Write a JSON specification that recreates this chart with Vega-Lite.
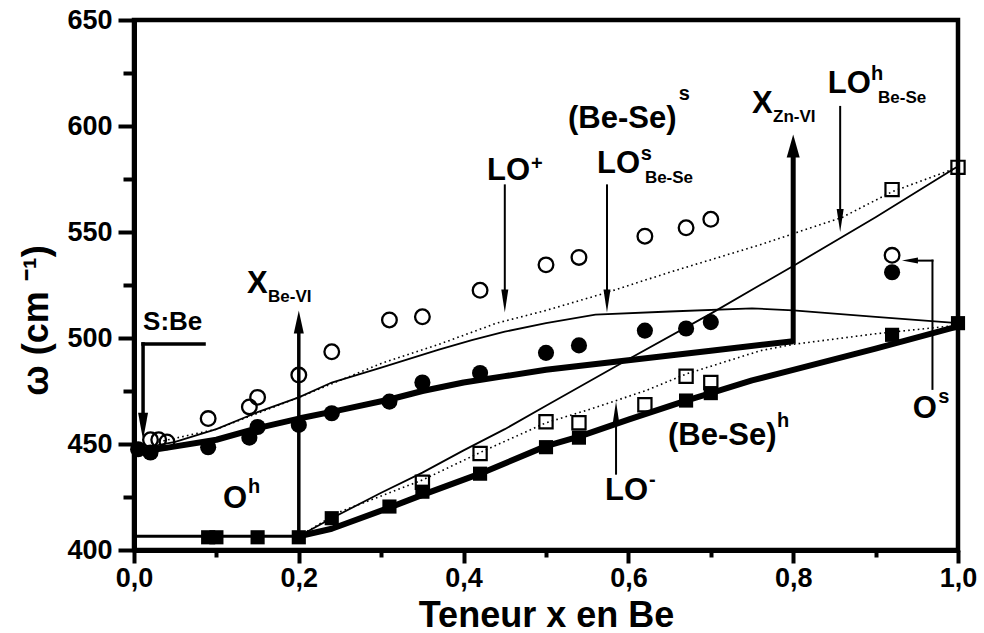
{
  "$schema": "https://vega.github.io/schema/vega-lite/v6.json",
  "width": 824,
  "height": 530,
  "autosize": {"type": "none"},
  "padding": {"left": 134, "top": 20, "right": 26, "bottom": 83},
  "background": "white",
  "config": {
    "view": {"stroke": "black", "strokeWidth": 4.5},
    "font": "Liberation Sans",
    "axis": {"grid": false}
  },
  "datasets": {
    "lines": [
      {"series": "base", "x": 0.0, "y": 406.5},
      {"series": "base", "x": 0.2, "y": 406.5},
      {"series": "upper_fit", "x": 0.0, "y": 447.5},
      {"series": "upper_fit", "x": 0.02, "y": 447},
      {"series": "upper_fit", "x": 0.1, "y": 452},
      {"series": "upper_fit", "x": 0.15, "y": 457.5},
      {"series": "upper_fit", "x": 0.2, "y": 462},
      {"series": "upper_fit", "x": 0.25, "y": 466},
      {"series": "upper_fit", "x": 0.31, "y": 471},
      {"series": "upper_fit", "x": 0.35, "y": 475},
      {"series": "upper_fit", "x": 0.4, "y": 479},
      {"series": "upper_fit", "x": 0.45, "y": 482},
      {"series": "upper_fit", "x": 0.5, "y": 485},
      {"series": "upper_fit", "x": 0.6, "y": 489.5},
      {"series": "upper_fit", "x": 0.7, "y": 494},
      {"series": "upper_fit", "x": 0.8, "y": 498.5},
      {"series": "lower_fit", "x": 0.2, "y": 406.5},
      {"series": "lower_fit", "x": 0.24, "y": 410},
      {"series": "lower_fit", "x": 0.31, "y": 420},
      {"series": "lower_fit", "x": 0.35, "y": 426},
      {"series": "lower_fit", "x": 0.42, "y": 436},
      {"series": "lower_fit", "x": 0.5, "y": 449},
      {"series": "lower_fit", "x": 0.54, "y": 453.5},
      {"series": "lower_fit", "x": 0.6, "y": 461.5},
      {"series": "lower_fit", "x": 0.67, "y": 470.5},
      {"series": "lower_fit", "x": 0.7, "y": 474},
      {"series": "lower_fit", "x": 0.75, "y": 480},
      {"series": "lower_fit", "x": 0.8, "y": 485},
      {"series": "lower_fit", "x": 0.9, "y": 495},
      {"series": "lower_fit", "x": 1.0, "y": 505.5},
      {"series": "upper_thin", "x": 0.01, "y": 448},
      {"series": "upper_thin", "x": 0.05, "y": 451},
      {"series": "upper_thin", "x": 0.1, "y": 457},
      {"series": "upper_thin", "x": 0.15, "y": 465},
      {"series": "upper_thin", "x": 0.2, "y": 472},
      {"series": "upper_thin", "x": 0.24, "y": 479},
      {"series": "upper_thin", "x": 0.3, "y": 486},
      {"series": "upper_thin", "x": 0.37, "y": 494.5},
      {"series": "upper_thin", "x": 0.41, "y": 499},
      {"series": "upper_thin", "x": 0.45, "y": 503},
      {"series": "upper_thin", "x": 0.5, "y": 507},
      {"series": "upper_thin", "x": 0.56, "y": 511},
      {"series": "upper_thin", "x": 0.65, "y": 512.5},
      {"series": "upper_thin", "x": 0.75, "y": 514},
      {"series": "upper_thin", "x": 0.8, "y": 513},
      {"series": "upper_thin", "x": 0.9, "y": 510},
      {"series": "upper_thin", "x": 1.0, "y": 507},
      {"series": "upper_dotted", "x": 0.03, "y": 451},
      {"series": "upper_dotted", "x": 0.1, "y": 457},
      {"series": "upper_dotted", "x": 0.2, "y": 472},
      {"series": "upper_dotted", "x": 0.25, "y": 480},
      {"series": "upper_dotted", "x": 0.3, "y": 488},
      {"series": "upper_dotted", "x": 0.37, "y": 497},
      {"series": "upper_dotted", "x": 0.44, "y": 507},
      {"series": "upper_dotted", "x": 0.5, "y": 513},
      {"series": "upper_dotted", "x": 0.57, "y": 521},
      {"series": "upper_dotted", "x": 0.65, "y": 531},
      {"series": "upper_dotted", "x": 0.76, "y": 544},
      {"series": "upper_dotted", "x": 0.86, "y": 557},
      {"series": "upper_dotted", "x": 0.92, "y": 569},
      {"series": "upper_dotted", "x": 1.0, "y": 580.5},
      {"series": "lower_thin", "x": 0.2, "y": 406.5},
      {"series": "lower_thin", "x": 0.24, "y": 415},
      {"series": "lower_thin", "x": 0.3, "y": 427},
      {"series": "lower_thin", "x": 0.35, "y": 436.5},
      {"series": "lower_thin", "x": 0.4, "y": 447},
      {"series": "lower_thin", "x": 0.45, "y": 457},
      {"series": "lower_thin", "x": 0.5, "y": 468},
      {"series": "lower_thin", "x": 0.6, "y": 490},
      {"series": "lower_thin", "x": 0.7, "y": 511.5},
      {"series": "lower_thin", "x": 0.8, "y": 534},
      {"series": "lower_thin", "x": 0.9, "y": 557},
      {"series": "lower_thin", "x": 1.0, "y": 581},
      {"series": "lower_dotted", "x": 0.2, "y": 406.5},
      {"series": "lower_dotted", "x": 0.25, "y": 418},
      {"series": "lower_dotted", "x": 0.3, "y": 425.5},
      {"series": "lower_dotted", "x": 0.35, "y": 433},
      {"series": "lower_dotted", "x": 0.42, "y": 446},
      {"series": "lower_dotted", "x": 0.5, "y": 460},
      {"series": "lower_dotted", "x": 0.55, "y": 466},
      {"series": "lower_dotted", "x": 0.62, "y": 475},
      {"series": "lower_dotted", "x": 0.67, "y": 483},
      {"series": "lower_dotted", "x": 0.76, "y": 494},
      {"series": "lower_dotted", "x": 0.8, "y": 497},
      {"series": "lower_dotted", "x": 0.9, "y": 502},
      {"series": "lower_dotted", "x": 1.0, "y": 506}
    ],
    "points": [
      {"series": "open_circle", "x": 0.02, "y": 452},
      {"series": "open_circle", "x": 0.03, "y": 452},
      {"series": "open_circle", "x": 0.04, "y": 451},
      {"series": "open_circle", "x": 0.09, "y": 462},
      {"series": "open_circle", "x": 0.14, "y": 467.5},
      {"series": "open_circle", "x": 0.15, "y": 472},
      {"series": "open_circle", "x": 0.2, "y": 482.5},
      {"series": "open_circle", "x": 0.24, "y": 493.5},
      {"series": "open_circle", "x": 0.31, "y": 508.5},
      {"series": "open_circle", "x": 0.35, "y": 510},
      {"series": "open_circle", "x": 0.42, "y": 522.5},
      {"series": "open_circle", "x": 0.5, "y": 534.5},
      {"series": "open_circle", "x": 0.54, "y": 538},
      {"series": "open_circle", "x": 0.62, "y": 548},
      {"series": "open_circle", "x": 0.67, "y": 552},
      {"series": "open_circle", "x": 0.7, "y": 556},
      {"series": "open_circle", "x": 0.92, "y": 539},
      {"series": "filled_circle", "x": 0.005, "y": 447.5},
      {"series": "filled_circle", "x": 0.02, "y": 446},
      {"series": "filled_circle", "x": 0.09, "y": 448.5},
      {"series": "filled_circle", "x": 0.14, "y": 453},
      {"series": "filled_circle", "x": 0.15, "y": 458},
      {"series": "filled_circle", "x": 0.2, "y": 459},
      {"series": "filled_circle", "x": 0.24, "y": 464.5},
      {"series": "filled_circle", "x": 0.31, "y": 470},
      {"series": "filled_circle", "x": 0.35, "y": 479},
      {"series": "filled_circle", "x": 0.42, "y": 483.5},
      {"series": "filled_circle", "x": 0.5, "y": 493},
      {"series": "filled_circle", "x": 0.54, "y": 496.5},
      {"series": "filled_circle", "x": 0.62, "y": 503.5},
      {"series": "filled_circle", "x": 0.67, "y": 504.5},
      {"series": "filled_circle", "x": 0.7, "y": 507.5},
      {"series": "filled_circle", "x": 0.92, "y": 531},
      {"series": "filled_square", "x": 0.09, "y": 406},
      {"series": "filled_square", "x": 0.1, "y": 406},
      {"series": "filled_square", "x": 0.15, "y": 406},
      {"series": "filled_square", "x": 0.2, "y": 406},
      {"series": "filled_square", "x": 0.24, "y": 415},
      {"series": "filled_square", "x": 0.31, "y": 420.5},
      {"series": "filled_square", "x": 0.35, "y": 427.5},
      {"series": "filled_square", "x": 0.42, "y": 436},
      {"series": "filled_square", "x": 0.5, "y": 448.5},
      {"series": "filled_square", "x": 0.54, "y": 453},
      {"series": "filled_square", "x": 0.67, "y": 470.5},
      {"series": "filled_square", "x": 0.7, "y": 474},
      {"series": "filled_square", "x": 0.92, "y": 501.5},
      {"series": "filled_square", "x": 1.0, "y": 507},
      {"series": "open_square", "x": 0.35, "y": 432},
      {"series": "open_square", "x": 0.42, "y": 445.5},
      {"series": "open_square", "x": 0.5, "y": 460.5},
      {"series": "open_square", "x": 0.54, "y": 460},
      {"series": "open_square", "x": 0.62, "y": 468.5},
      {"series": "open_square", "x": 0.67, "y": 482},
      {"series": "open_square", "x": 0.7, "y": 479},
      {"series": "open_square", "x": 0.92, "y": 570},
      {"series": "open_square", "x": 1.0, "y": 580.5}
    ],
    "rules": [
      {"kind": "thick", "x": 0.8, "y": 498.5, "x2": 0.8, "y2": 588},
      {"kind": "medium", "x": 0.2, "y": 406, "x2": 0.2, "y2": 505},
      {"kind": "medium", "x": 0.085, "y": 497.2, "x2": 0.011, "y2": 497.2},
      {"kind": "medium", "x": 0.011, "y": 497.2, "x2": 0.011, "y2": 462},
      {"kind": "thin", "x": 0.45, "y": 572, "x2": 0.45, "y2": 520},
      {"kind": "thin", "x": 0.574, "y": 572, "x2": 0.574, "y2": 520},
      {"kind": "thin", "x": 0.857, "y": 609, "x2": 0.857, "y2": 557},
      {"kind": "thin", "x": 0.585, "y": 436, "x2": 0.585, "y2": 463},
      {"kind": "thin", "x": 0.969, "y": 476, "x2": 0.969, "y2": 536.5},
      {"kind": "thin", "x": 0.969, "y": 536.5, "x2": 0.945, "y2": 536.5}
    ],
    "heads": [
      {"kind": "big_up", "x": 0.8, "y": 596},
      {"kind": "med_up", "x": 0.2, "y": 513},
      {"kind": "med_down", "x": 0.011, "y": 452},
      {"kind": "small_down", "x": 0.45, "y": 512},
      {"kind": "small_down", "x": 0.574, "y": 512},
      {"kind": "small_down", "x": 0.857, "y": 550},
      {"kind": "small_up", "x": 0.585, "y": 470},
      {"kind": "small_left", "x": 0.932, "y": 536.5}
    ],
    "labels": [
      {"role": "main", "text": "LO", "x": 0.4284, "y": 574.5},
      {"role": "main", "text": "(Be-Se)", "x": 0.5267, "y": 599.1},
      {"role": "main", "text": "X", "x": 0.75, "y": 606.1},
      {"role": "main", "text": "LO", "x": 0.842, "y": 615.6},
      {"role": "main", "text": "LO", "x": 0.562, "y": 577.8},
      {"role": "main", "text": "X", "x": 0.137, "y": 521.2},
      {"role": "main", "text": "O", "x": 0.108, "y": 419.8},
      {"role": "main", "text": "(Be-Se)", "x": 0.648, "y": 449.5},
      {"role": "main", "text": "LO", "x": 0.5716, "y": 423.6},
      {"role": "main", "text": "O", "x": 0.945, "y": 462.3},
      {"role": "sbe", "text": "S:Be", "x": 0.011, "y": 503.8},
      {"role": "sup", "text": "+", "x": 0.4818, "y": 579.2},
      {"role": "sup", "text": "s", "x": 0.661, "y": 612.3},
      {"role": "sup", "text": "h", "x": 0.8944, "y": 621.7},
      {"role": "sup", "text": "s", "x": 0.615, "y": 584},
      {"role": "sup", "text": "h", "x": 0.1383, "y": 426.9},
      {"role": "sup", "text": "h", "x": 0.7803, "y": 458},
      {"role": "sup", "text": "-", "x": 0.625, "y": 430.2},
      {"role": "sup", "text": "s", "x": 0.976, "y": 469.3},
      {"role": "sub", "text": "Zn-VI", "x": 0.7755, "y": 601.9},
      {"role": "sub", "text": "Be-Se", "x": 0.903, "y": 610.8},
      {"role": "sub", "text": "Be-Se", "x": 0.62, "y": 573.1},
      {"role": "sub", "text": "Be-VI", "x": 0.1626, "y": 517}
    ]
  },
  "encoding": {
    "x": {
      "field": "x",
      "type": "quantitative",
      "scale": {"domain": [0, 1], "nice": false, "zero": false},
      "axis": {
        "values": [0, 0.1, 0.2, 0.3, 0.4, 0.5, 0.6, 0.7, 0.8, 0.9, 1.0],
        "labelExpr": "round(datum.value*10) % 2 == 0 ? replace(format(datum.value, '.1f'), '.', ',') : ''",
        "tickSize": {"condition": {"test": "round(datum.value*10) % 2 != 0", "value": 7}, "value": 13},
        "tickWidth": 4,
        "tickColor": "black",
        "domainWidth": 5,
        "domainColor": "black",
        "labelPadding": 2,
        "labelFont": "Liberation Sans",
        "labelFontSize": 27,
        "labelFontWeight": "bold",
        "labelColor": "black",
        "labelFlush": false,
        "labelOverlap": false,
        "title": "Teneur x en Be",
        "titleFont": "Liberation Sans",
        "titleFontSize": 36,
        "titleFontWeight": "bold",
        "titleColor": "black",
        "titleBaseline": "alphabetic",
        "titleY": 76
      }
    },
    "y": {
      "field": "y",
      "type": "quantitative",
      "scale": {"domain": [400, 650], "nice": false, "zero": false},
      "axis": {
        "values": [400, 425, 450, 475, 500, 525, 550, 575, 600, 625, 650],
        "labelExpr": "datum.value % 50 == 0 ? datum.label : ''",
        "tickSize": {"condition": {"test": "datum.value % 50 != 0", "value": 11}, "value": 16},
        "tickWidth": 4,
        "tickColor": "black",
        "domainWidth": 5,
        "domainColor": "black",
        "labelPadding": 6,
        "labelFont": "Liberation Sans",
        "labelFontSize": 27,
        "labelFontWeight": "bold",
        "labelColor": "black",
        "labelFlush": false,
        "labelOverlap": false,
        "title": "ω (cm ⁻¹)",
        "titleFont": "Liberation Sans",
        "titleFontSize": 36,
        "titleFontWeight": "bold",
        "titleColor": "black",
        "titleAngle": -90,
        "titleAlign": "center",
        "titleBaseline": "middle",
        "titleX": -98,
        "titleY": 300
      }
    }
  },
  "layer": [
    {
      "data": {"name": "lines"},
      "transform": [{"filter": {"field": "series", "oneOf": ["upper_thin", "lower_thin"]}}],
      "mark": {"type": "line", "color": "black", "strokeWidth": 1.8},
      "encoding": {"detail": {"field": "series"}}
    },
    {
      "data": {"name": "lines"},
      "transform": [{"filter": {"field": "series", "oneOf": ["upper_dotted", "lower_dotted"]}}],
      "mark": {"type": "line", "color": "black", "strokeWidth": 1.6, "strokeDash": [1.6, 3.2]},
      "encoding": {"detail": {"field": "series"}}
    },
    {
      "data": {"name": "lines"},
      "transform": [{"filter": {"field": "series", "equal": "base"}}],
      "mark": {"type": "line", "color": "black", "strokeWidth": 3},
      "encoding": {"detail": {"field": "series"}}
    },
    {
      "data": {"name": "lines"},
      "transform": [{"filter": {"field": "series", "oneOf": ["upper_fit", "lower_fit"]}}],
      "mark": {"type": "line", "color": "black", "strokeWidth": 6, "strokeJoin": "round"},
      "encoding": {"detail": {"field": "series"}}
    },
    {
      "data": {"name": "rules"},
      "transform": [{"filter": {"field": "kind", "equal": "thin"}}],
      "mark": {"type": "rule", "color": "black", "strokeWidth": 2, "strokeCap": "square"},
      "encoding": {"x2": {"field": "x2"}, "y2": {"field": "y2"}}
    },
    {
      "data": {"name": "rules"},
      "transform": [{"filter": {"field": "kind", "equal": "medium"}}],
      "mark": {"type": "rule", "color": "black", "strokeWidth": 3.5, "strokeCap": "square"},
      "encoding": {"x2": {"field": "x2"}, "y2": {"field": "y2"}}
    },
    {
      "data": {"name": "rules"},
      "transform": [{"filter": {"field": "kind", "equal": "thick"}}],
      "mark": {"type": "rule", "color": "black", "strokeWidth": 5, "strokeCap": "square"},
      "encoding": {"x2": {"field": "x2"}, "y2": {"field": "y2"}}
    },
    {
      "data": {"name": "heads"},
      "mark": {"type": "point", "filled": true, "color": "black", "opacity": 1, "size": 100, "strokeWidth": 0},
      "encoding": {
        "shape": {
          "field": "kind",
          "type": "nominal",
          "legend": null,
          "scale": {
            "domain": ["big_up", "med_up", "med_down", "small_down", "small_up", "small_left"],
            "range": [
              "M0,0L-1.3,4.6L1.3,4.6Z",
              "M0,0L-1,4.6L1,4.6Z",
              "M0,0L-1,-5.4L1,-5.4Z",
              "M0,0L-0.7,-4.6L0.7,-4.6Z",
              "M0,0L-0.7,4.6L0.7,4.6Z",
              "M0,0L3.2,-0.6L3.2,0.6Z"
            ]
          }
        }
      }
    },
    {
      "data": {"name": "points"},
      "transform": [{"filter": {"field": "series", "equal": "open_square"}}],
      "mark": {"type": "point", "shape": "square", "filled": false, "color": "black", "opacity": 1, "size": 175, "strokeWidth": 2.2}
    },
    {
      "data": {"name": "points"},
      "transform": [{"filter": {"field": "series", "equal": "filled_square"}}],
      "mark": {"type": "point", "shape": "square", "filled": true, "color": "black", "opacity": 1, "size": 200}
    },
    {
      "data": {"name": "points"},
      "transform": [{"filter": {"field": "series", "equal": "open_circle"}}],
      "mark": {"type": "point", "shape": "circle", "filled": false, "color": "black", "opacity": 1, "size": 215, "strokeWidth": 2.3}
    },
    {
      "data": {"name": "points"},
      "transform": [{"filter": {"field": "series", "equal": "filled_circle"}}],
      "mark": {"type": "point", "shape": "circle", "filled": true, "color": "black", "opacity": 1, "size": 260}
    },
    {
      "data": {"name": "labels"},
      "transform": [{"filter": {"field": "role", "equal": "main"}}],
      "mark": {"type": "text", "align": "left", "baseline": "alphabetic", "font": "Liberation Sans", "fontWeight": "bold", "fontSize": 31, "color": "black"},
      "encoding": {"text": {"field": "text"}}
    },
    {
      "data": {"name": "labels"},
      "transform": [{"filter": {"field": "role", "equal": "sbe"}}],
      "mark": {"type": "text", "align": "left", "baseline": "alphabetic", "font": "Liberation Sans", "fontWeight": "bold", "fontSize": 26, "color": "black"},
      "encoding": {"text": {"field": "text"}}
    },
    {
      "data": {"name": "labels"},
      "transform": [{"filter": {"field": "role", "equal": "sup"}}],
      "mark": {"type": "text", "align": "left", "baseline": "alphabetic", "font": "Liberation Sans", "fontWeight": "bold", "fontSize": 20, "color": "black"},
      "encoding": {"text": {"field": "text"}}
    },
    {
      "data": {"name": "labels"},
      "transform": [{"filter": {"field": "role", "equal": "sub"}}],
      "mark": {"type": "text", "align": "left", "baseline": "alphabetic", "font": "Liberation Sans", "fontWeight": "bold", "fontSize": 17, "color": "black"},
      "encoding": {"text": {"field": "text"}}
    }
  ]
}
